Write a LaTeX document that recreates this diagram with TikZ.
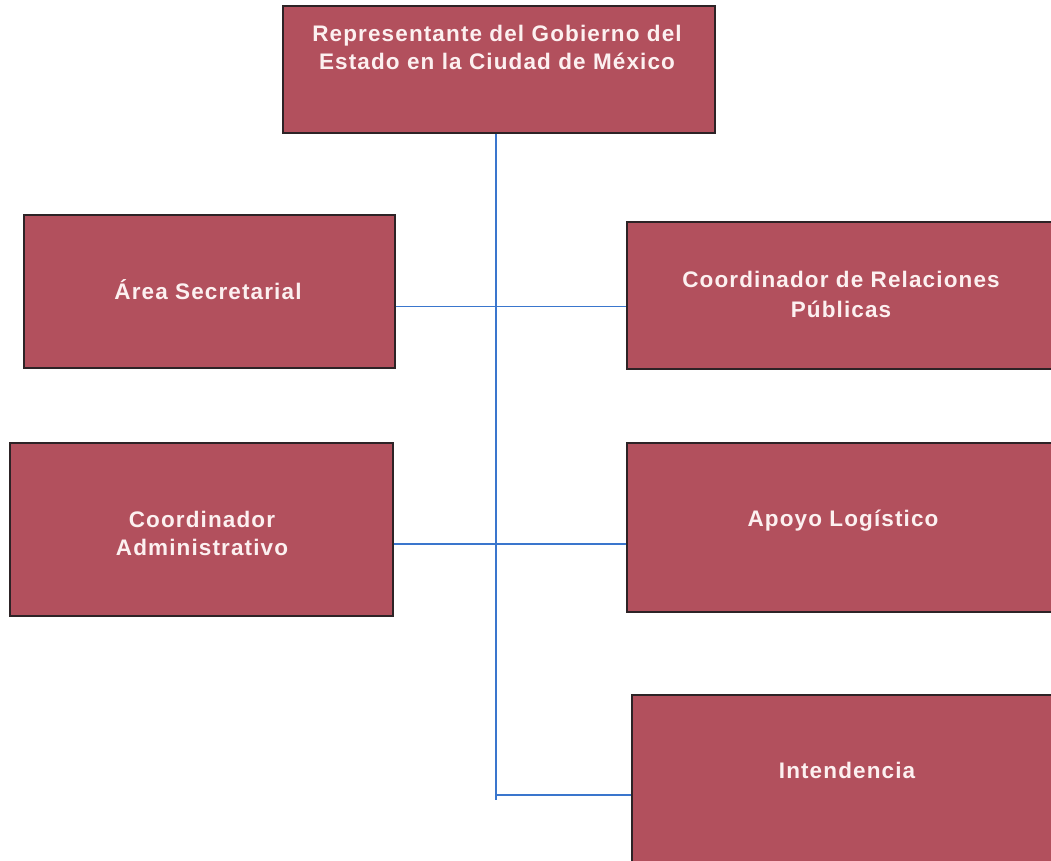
\documentclass[tikz,border=0pt]{standalone}
\usepackage{fontspec}
\setmainfont{Liberation Sans}
\newfontfamily\boxfont[LetterSpace=5]{Liberation Sans}
\definecolor{boxred}{RGB}{178,80,93}
\definecolor{boxedge}{RGB}{45,35,38}
\definecolor{linkblue}{RGB}{58,118,205}
\definecolor{boxtext}{RGB}{252,240,240}
\begin{document}
\begin{tikzpicture}[x=1pt,y=-1pt,
  orgbox/.style={draw=boxedge, line width=1.2pt, fill=boxred, rectangle, inner sep=0pt},
  boxlabel/.style={text=boxtext, align=center, inner sep=0pt, text height=15pt, text depth=5pt,
    font=\boxfont\bfseries\fontsize{22.5}{#1}\selectfont},
  boxlabel/.default=28,
  conn/.style={draw=linkblue, line width=1.8pt}]
\useasboundingbox (0,0) rectangle (1051,860);
\clip (0,0) rectangle (1051,860);
\fill[white] (0,0) rectangle (1051,860);

% boxes
\node[orgbox, minimum width=432pt, minimum height=127pt] (top) at (499,69.5) {};
\node[orgbox, minimum width=371pt, minimum height=153pt] (area) at (209.5,291.5) {};
\node[orgbox, minimum width=383pt, minimum height=173pt] (coad) at (201.5,529.5) {};
\node[orgbox, minimum width=429pt, minimum height=147pt] (crp) at (841.5,295.5) {};
\node[orgbox, minimum width=429pt, minimum height=169pt] (apoyo) at (841.5,527.5) {};
\node[orgbox, minimum width=430pt, minimum height=180pt] (intend) at (847,785) {};

% labels (multi-line: centre = last baseline - 5pt)
\node[boxlabel=28] (topl) at (497,64) {Representante del Gobierno del\\Estado en la Ciudad de México};
\node[boxlabel] (areal) at (208,294) {Área Secretarial};
\node[boxlabel=28] (coadl) at (202,550) {Coordinador\\Administrativo};
\node[boxlabel=30] (crpl) at (841,312) {Coordinador de Relaciones\\Públicas};
\node[boxlabel] (apoyol) at (843,521) {Apoyo Logístico};
\node[boxlabel] (intendl) at (847,773) {Intendencia};

% junctions
\coordinate (j1) at (496,306.5);
\coordinate (j2) at (496,544);
\coordinate (j3) at (496,795);
\coordinate (trunkend) at (496,800);

% connectors
\draw[conn] (top.south -| j1) -- (trunkend);
\draw[conn] (area.east |- j1) -- (crp.west |- j1);
\draw[conn] (coad.east |- j2) -- (apoyo.west |- j2);
\draw[conn] (j3) -- (intend.west |- j3);
\end{tikzpicture}
\end{document}
